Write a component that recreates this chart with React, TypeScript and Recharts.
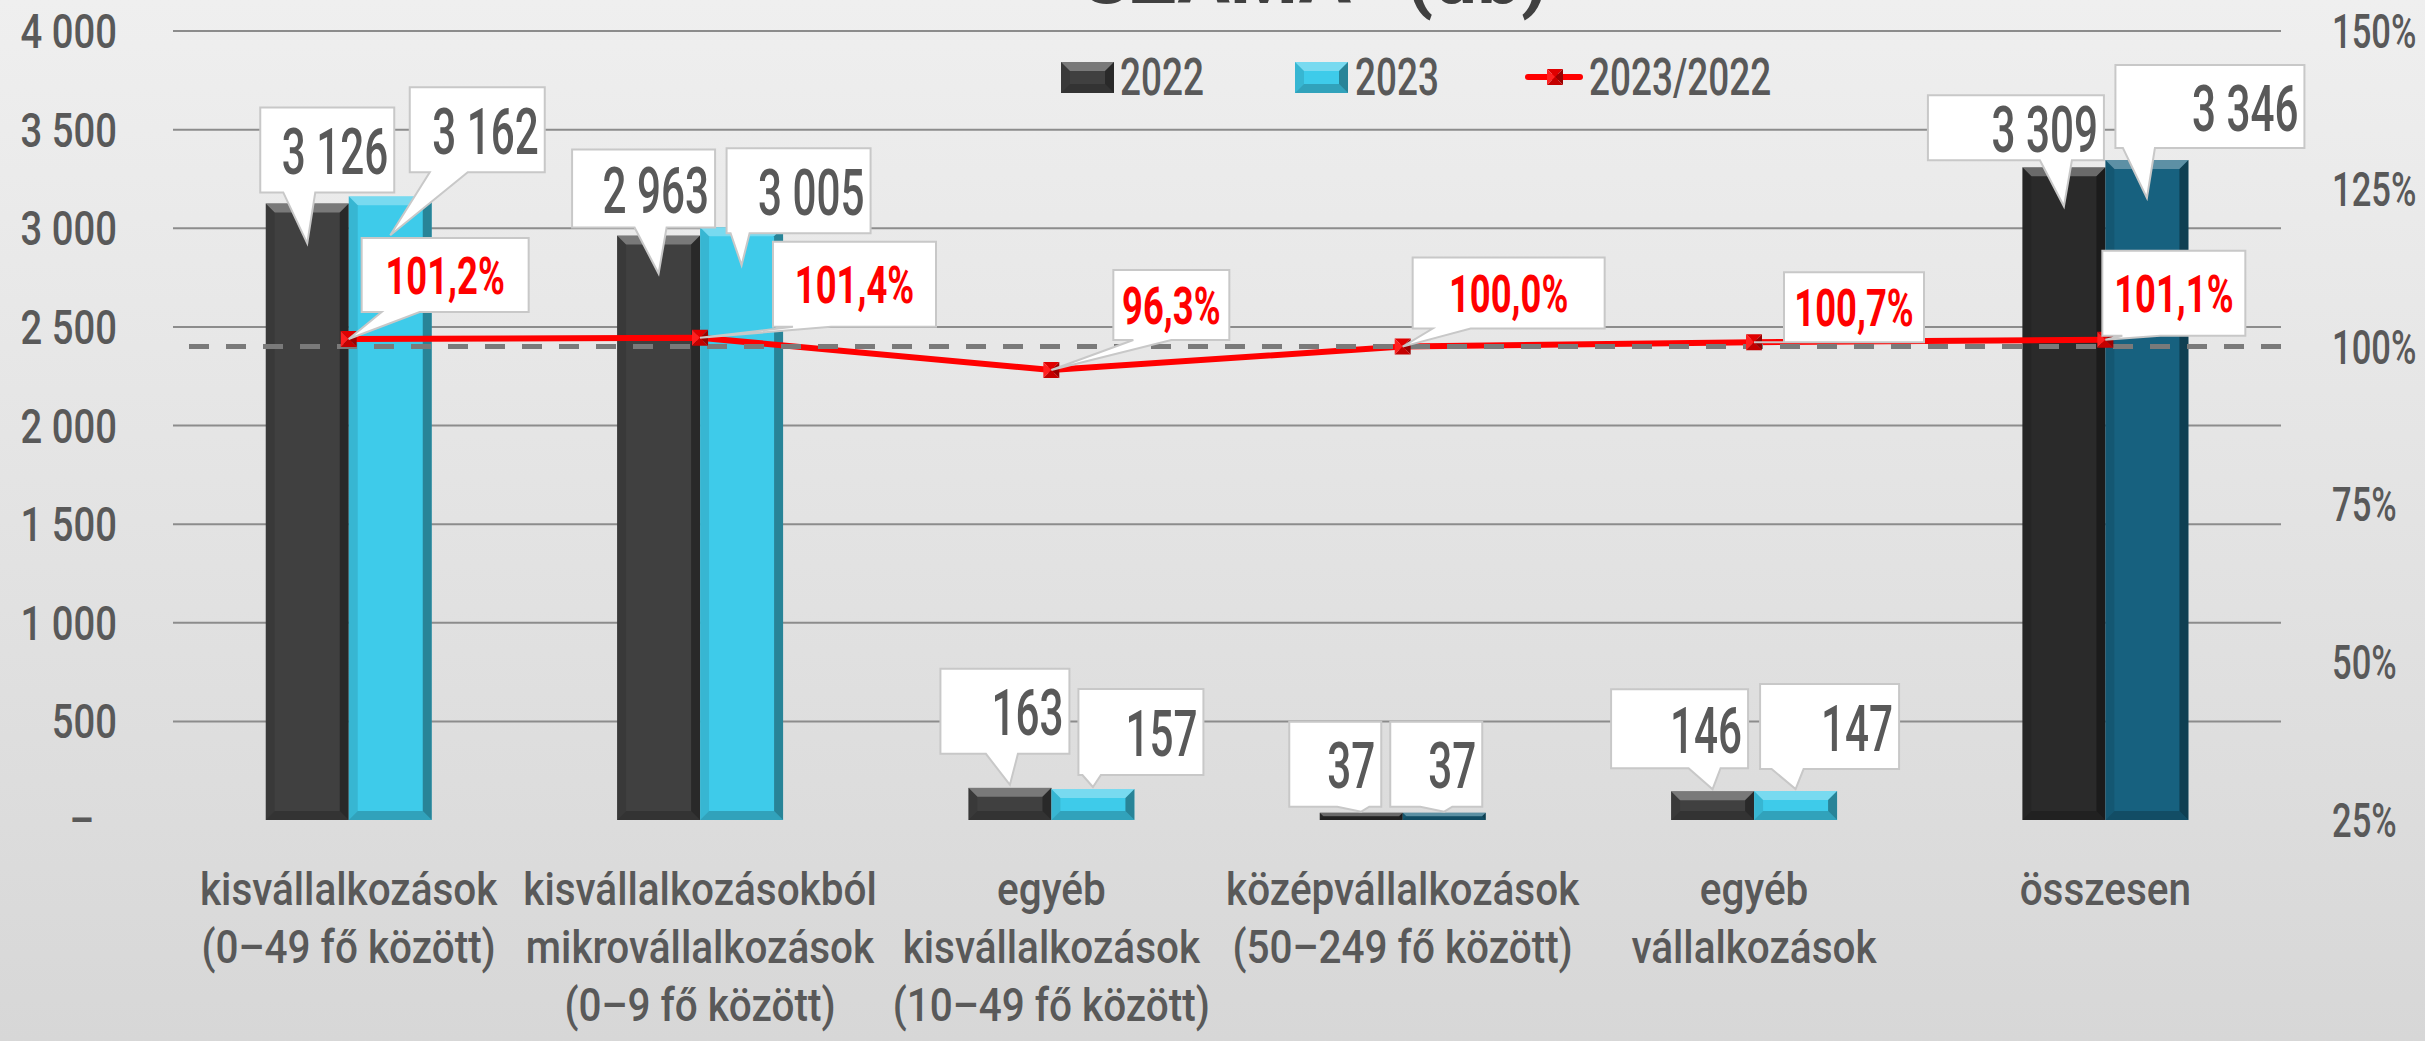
import React from "react";
import {
  Bar,
  CartesianGrid,
  Cell,
  ComposedChart,
  LabelList,
  Legend,
  Line,
  ReferenceLine,
  XAxis,
  YAxis
} from "recharts";

const categories = [
  "kisvállalkozások\n(0–49 fő között)",
  "kisvállalkozásokból\nmikrovállalkozások\n(0–9 fő között)",
  "egyéb\nkisvállalkozások\n(10–49 fő között)",
  "középvállalkozások\n(50–249 fő között)",
  "egyéb\nvállalkozások",
  "összesen"
];
const values2022 = [3126, 2963, 163, 37, 146, 3309];
const values2023 = [3162, 3005, 157, 37, 147, 3346];
const ratio = [101.2, 101.4, 96.3, 100.0, 100.7, 101.1];
const leftTicks = [0, 500, 1000, 1500, 2000, 2500, 3000, 3500, 4000];
const rightTicks = [25, 50, 75, 100, 125, 150];

const data = categories.map((name, i) => ({
  name,
  y2022: values2022[i],
  y2023: values2023[i],
  ratio: ratio[i]
}));

// színek oszloponként (a középvállalkozások és az összesen sötétebb)
const fills2022 = ["#404040", "#404040", "#404040", "#2a2a2a", "#404040", "#2a2a2a"];
const fills2023 = ["#3ecbea", "#3ecbea", "#3ecbea", "#16607c", "#3ecbea", "#17617f"];

// buborékok kézi elhelyezése: dx = doboz közepe az oszlop közepéhez képest,
// bottom = doboz alja az oszlop tetejéhez képest, tip = a csúcs mélysége
const callout2022 = [
  { dx: 20, bottom: -11, w: 134, h: 85, tip: 40 },
  { dx: -15, bottom: -8, w: 143, h: 78, tip: 38 },
  { dx: -5, bottom: -34, w: 129, h: 85, tip: -3 },
  { dx: -26, bottom: -6, w: 92, h: 85, tip: -1 },
  { dx: -33, bottom: -23, w: 137, h: 79, tip: -2 },
  { dx: -48, bottom: -7, w: 176, h: 65, tip: 39 }
];
const callout2023 = [
  { dx: 87, bottom: -24, w: 135, h: 85, tip: 39 },
  { dx: 57, bottom: 6, w: 144, h: 85, tip: 38 },
  { dx: 48, bottom: -14, w: 125, h: 86, tip: -2 },
  { dx: -8, bottom: -6, w: 92, h: 85, tip: -1 },
  { dx: 34, bottom: -22, w: 139, h: 85, tip: -2 },
  { dx: 63, bottom: -12, w: 189, h: 83, tip: 38 }
];
const calloutPct = [
  { dx: 13, bottom: -27, w: 167, h: 74 },
  { dx: 73, bottom: -11, w: 163, h: 85 },
  { dx: 62, bottom: -30, w: 116, h: 70 },
  { dx: 10, bottom: -18, w: 192, h: 71 },
  { dx: 30, bottom: 0, w: 140, h: 70 },
  { dx: -3, bottom: -4, w: 143, h: 85 }
];

const GRAY = "#595959";
const FONT = "Roboto, 'DejaVu Sans', sans-serif";

const fmtNum = (v: number) => String(v).replace(/\B(?=(\d{3})+(?!\d))/g, " ");
const fmtPct = (v: number) => v.toFixed(1).replace(".", ",") + "%";

const SText = ({ x, y, sx = 0.75, anchor = "start", size, weight = 400, fill = GRAY, children }: any) => (
  <text
    transform={`translate(${x},${y}) scale(${sx},1)`}
    textAnchor={anchor}
    fontSize={size}
    fontWeight={weight}
    fill={fill}
    fontFamily={FONT}
  >
    {children}
  </text>
);

const BevelRect = ({ x, y, w, h, fill }: any) => {
  const b = Math.min(9, h / 2, w / 2);
  return (
    <g>
      <rect x={x} y={y} width={w} height={h} fill={fill} />
      <polygon points={`${x},${y} ${x + w},${y} ${x + w - b},${y + b} ${x + b},${y + b}`} fill="#fff" fillOpacity={0.3} />
      <polygon points={`${x},${y} ${x + b},${y + b} ${x + b},${y + h - b} ${x},${y + h}`} fill="#000" fillOpacity={0.1} />
      <polygon points={`${x + w},${y} ${x + w - b},${y + b} ${x + w - b},${y + h - b} ${x + w},${y + h}`} fill="#000" fillOpacity={0.35} />
      <polygon points={`${x},${y + h} ${x + b},${y + h - b} ${x + w - b},${y + h - b} ${x + w},${y + h}`} fill="#000" fillOpacity={0.2} />
    </g>
  );
};

const BevelBar = (p: any) => {
  if (!p.height || p.height <= 0) return <g />;
  return <BevelRect x={p.x} y={p.y} w={p.width} h={p.height} fill={p.fill} />;
};

const RedDot = (p: any) => {
  const { cx, cy } = p;
  if (cx == null || cy == null) return <g />;
  const s = 8;
  return (
    <g key={`dot-${p.index}`}>
      <polygon points={`${cx - s},${cy - s} ${cx + s},${cy - s} ${cx},${cy}`} fill="#e00000" />
      <polygon points={`${cx - s},${cy - s} ${cx},${cy} ${cx - s},${cy + s}`} fill="#ff2020" />
      <polygon points={`${cx + s},${cy - s} ${cx},${cy} ${cx + s},${cy + s}`} fill="#9a0000" />
      <polygon points={`${cx - s},${cy + s} ${cx},${cy} ${cx + s},${cy + s}`} fill="#c40000" />
    </g>
  );
};

const Bubble = ({ left, top, w, h, tipX, tipY }: any) => {
  const right = left + w;
  const bottom = top + h;
  let b0: number;
  let b1: number;
  if (tipX < left + 12) {
    b0 = left + 20;
    b1 = left + 58;
  } else if (tipX > right - 12) {
    b0 = right - 58;
    b1 = right - 20;
  } else {
    b0 = Math.max(left + 4, tipX - 24);
    b1 = Math.min(right - 4, tipX + 8);
  }
  const d = `M${left},${top}H${right}V${bottom}H${b1}L${tipX},${tipY}L${b0},${bottom}H${left}Z`;
  return <path d={d} fill="#ffffff" stroke="#c8c8c8" strokeWidth={2} />;
};

const pick = (props: any) => {
  const vb = props.viewBox || {};
  return {
    x: props.x ?? vb.x,
    y: props.y ?? vb.y,
    width: props.width ?? vb.width ?? 0
  };
};

const countLabel = (layout: any[]) => (props: any) => {
  const { x, y, width } = pick(props);
  const L = layout[props.index];
  if (!L || x == null) return null;
  const cx = x + width / 2;
  const left = cx + L.dx - L.w / 2;
  const top = y + L.bottom - L.h;
  return (
    <g>
      <Bubble left={left} top={top} w={L.w} h={L.h} tipX={cx} tipY={y + L.tip} />
      <SText x={left + L.w - 6} y={top + L.h / 2 + 24} anchor="end" size={64} weight={500} sx={0.66}>
        {fmtNum(Number(props.value))}
      </SText>
    </g>
  );
};

const pctLabel = (props: any) => {
  const { x, y } = pick(props);
  const L = calloutPct[props.index];
  if (!L || x == null) return null;
  const left = x + L.dx;
  const top = y + L.bottom - L.h;
  return (
    <g>
      <Bubble left={left} top={top} w={L.w} h={L.h} tipX={x} tipY={y} />
      <SText x={left + L.w / 2} y={top + L.h / 2 + 19} anchor="middle" size={52} weight={700} sx={0.7} fill="#ff0000">
        {fmtPct(Number(props.value))}
      </SText>
    </g>
  );
};

const LeftTick = (p: any) => {
  const v = p.payload.value;
  return (
    <SText x={p.x - 56 - (v === 0 ? 23 : 0)} y={p.y + 17} anchor="end" size={49} weight={500} sx={0.78}>
      {v === 0 ? "–" : fmtNum(v)}
    </SText>
  );
};

const RightTick = (p: any) => (
  <SText x={p.x + 51} y={p.y + 17} size={48} weight={500} sx={0.72}>
    {p.payload.value + "%"}
  </SText>
);

const CatTick = (p: any) => {
  const lines = String(p.payload.value).split("\n");
  return (
    <g>
      {lines.map((t, i) => (
        <SText key={i} x={p.x} y={p.y + 85 + i * 58} anchor="middle" size={46} weight={500} sx={0.88}>
          {t}
        </SText>
      ))}
    </g>
  );
};

const LegendBox = () => (
  <svg width={760} height={50} style={{ display: "block", overflow: "visible" }}>
    <BevelRect x={0} y={7} w={53} h={31} fill="#404040" />
    <SText x={59} y={40} size={52} weight={500} sx={0.71}>2022</SText>
    <BevelRect x={234} y={7} w={53} h={31} fill="#3ecbea" />
    <SText x={294} y={40} size={52} weight={500} sx={0.71}>2023</SText>
    <line x1={467} y1={22} x2={519} y2={22} stroke="#ff0000" strokeWidth={6} strokeLinecap="round" />
    <RedDot cx={494} cy={22} index="legend" />
    <SText x={528} y={40} size={52} weight={500} sx={0.71}>2023/2022</SText>
  </svg>
);

export default function App() {
  return (
    <div
      style={{
        position: "absolute",
        left: 0,
        top: 0,
        width: 2425,
        height: 1041,
        overflow: "hidden",
        background: "linear-gradient(#efefef, #d7d7d7)"
      }}
    >
      <ComposedChart
        width={2425}
        height={1041}
        data={data}
        margin={{ top: 31, right: 0, bottom: 0, left: 0 }}
        barCategoryGap="26.4%"
        barGap={0}
      >
        <CartesianGrid
          yAxisId="left"
          vertical={false}
          stroke="#8c8c8c"
          strokeWidth={2}
          horizontalValues={leftTicks.filter((t) => t > 0)}
        />
        <XAxis
          dataKey="name"
          height={221}
          axisLine={false}
          tickLine={false}
          tickSize={0}
          tickMargin={0}
          interval={0}
          tick={<CatTick />}
        />
        <YAxis
          yAxisId="left"
          width={173}
          domain={[0, 4000]}
          ticks={leftTicks}
          interval={0}
          axisLine={false}
          tickLine={false}
          tickSize={0}
          tickMargin={0}
          tick={<LeftTick />}
        />
        <YAxis
          yAxisId="right"
          orientation="right"
          width={144}
          domain={[25, 150]}
          ticks={rightTicks}
          interval={0}
          axisLine={false}
          tickLine={false}
          tickSize={0}
          tickMargin={0}
          tick={<RightTick />}
        />
        <Legend
          layout="horizontal"
          verticalAlign="middle"
          align="center"
          wrapperStyle={{ left: 1061, top: 55, width: 760, height: 50 }}
          content={() => <LegendBox />}
        />
        <Bar yAxisId="left" dataKey="y2022" name="2022" shape={BevelBar} isAnimationActive={false}>
          {data.map((_, i) => (
            <Cell key={i} fill={fills2022[i]} />
          ))}
          <LabelList dataKey="y2022" content={countLabel(callout2022)} />
        </Bar>
        <Bar yAxisId="left" dataKey="y2023" name="2023" shape={BevelBar} isAnimationActive={false}>
          {data.map((_, i) => (
            <Cell key={i} fill={fills2023[i]} />
          ))}
          <LabelList dataKey="y2023" content={countLabel(callout2023)} />
        </Bar>
        <Line
          yAxisId="right"
          dataKey="ratio"
          name="2023/2022"
          stroke="#ff0000"
          strokeWidth={6}
          dot={RedDot}
          activeDot={false}
          isAnimationActive={false}
        >
          <LabelList dataKey="ratio" content={pctLabel} />
        </Line>
        <ReferenceLine yAxisId="right" y={100} stroke="#7a7a7a" strokeWidth={5} strokeDasharray="20 17" />
      </ComposedChart>
      <svg
        width={2425}
        height={40}
        style={{ position: "absolute", left: 0, top: 0, pointerEvents: "none" }}
      >
        <text x={1315} y={3} textAnchor="middle" fontSize={78} fontWeight={700} fill="#404040" fontFamily={FONT}>
          SZÁMA* (db)
        </text>
      </svg>
    </div>
  );
}
